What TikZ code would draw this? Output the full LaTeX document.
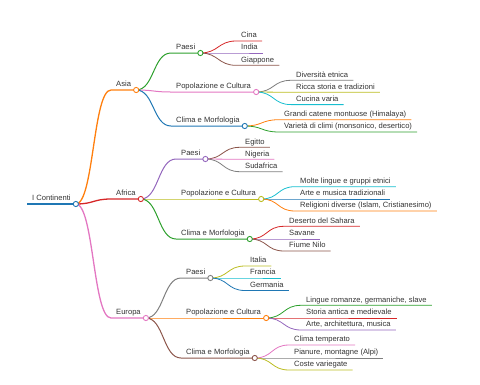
\documentclass[tikz,border=0pt]{standalone}
\usepackage{fontspec}
\setmainfont{Liberation Sans}
\usepackage{tikz}

\definecolor{mmblue}{HTML}{1F77B4}
\definecolor{mmorange}{HTML}{FF7F0E}
\definecolor{mmgreen}{HTML}{2CA02C}
\definecolor{mmred}{HTML}{D62728}
\definecolor{mmpurple}{HTML}{9467BD}
\definecolor{mmbrown}{HTML}{8C564B}
\definecolor{mmpink}{HTML}{E377C2}
\definecolor{mmgray}{HTML}{7F7F7F}
\definecolor{mmolive}{HTML}{BCBD22}
\definecolor{mmcyan}{HTML}{17BECF}

\begin{document}
\begin{tikzpicture}[x=1pt, y=-1pt,
  item/.style={anchor=south west, inner xsep=5pt, inner ysep=3pt, text depth=0pt,
    font=\fontsize{7.6}{9}\selectfont, text=black!80},
  trunk/.style={line width=1.8pt},
  lvl1/.style={line width=1.3pt},
  lvl2/.style={line width=1pt},
  lvl3/.style={line width=0.8pt},
  dot/.style={draw=#1, fill=white, line width=0.9pt}]

\useasboundingbox (0,0) rectangle (480,384);

% Root
\node[item] (root) at (27,204) {I Continenti};

% Continents
\node[item] (asia) at (111,90) {Asia};
\node[item] (africa) at (111,199) {Africa};
\node[item] (europa) at (111,318) {Europa};

% Asia
\node[item] (apaesi) at (171,53) {Paesi};
\node[item] (apop) at (171,92) {Popolazione e Cultura};
\node[item] (aclima) at (171,126) {Clima e Morfologia};
\node[item] (cina) at (236,41) {Cina};
\node[item] (india) at (236,53) {India};
\node[item] (giappone) at (236,65.3) {Giappone};
\node[item] (diversita) at (291,80.3) {Diversità etnica};
\node[item] (ricca) at (291,92.3) {Ricca storia e tradizioni};
\node[item] (cucina) at (291,104.6) {Cucina varia};
\node[item] (grandi) at (279,119.7) {Grandi catene montuose (Himalaya)};
\node[item] (varieta) at (279,132) {Varietà di climi (monsonico, desertico)};

% Africa
\node[item] (fpaesi) at (176,159) {Paesi};
\node[item] (fpop) at (176,199) {Popolazione e Cultura};
\node[item] (fclima) at (176,239) {Clima e Morfologia};
\node[item] (egitto) at (240,147.3) {Egitto};
\node[item] (nigeria) at (240,159.3) {Nigeria};
\node[item] (sudafrica) at (240,171.7) {Sudafrica};
\node[item] (molte) at (295,186.7) {Molte lingue e gruppi etnici};
\node[item] (farte) at (295,199) {Arte e musica tradizionali};
\node[item] (religioni) at (295,211) {Religioni diverse (Islam, Cristianesimo)};
\node[item] (deserto) at (284,226.3) {Deserto del Sahara};
\node[item] (savane) at (284,239) {Savane};
\node[item] (fiume) at (284,251) {Fiume Nilo};

% Europa
\node[item] (epaesi) at (181,278) {Paesi};
\node[item] (epop) at (181,318) {Popolazione e Cultura};
\node[item] (eclima) at (181,358) {Clima e Morfologia};
\node[item] (italia) at (245,266) {Italia};
\node[item] (francia) at (245,278) {Francia};
\node[item] (germania) at (245,290.5) {Germania};
\node[item] (lingue) at (301,305.3) {Lingue romanze, germaniche, slave};
\node[item] (storia) at (301,318) {Storia antica e medievale};
\node[item] (earte) at (301,330) {Arte, architettura, musica};
\node[item] (temperato) at (289,345) {Clima temperato};
\node[item] (pianure) at (289,358) {Pianure, montagne (Alpi)};
\node[item] (coste) at (289,370) {Coste variegate};

% Root line
\draw[trunk, mmblue] (root.south west) -- (root.south east);

% Branches to continents
\draw[lvl1, mmorange] (root.south east) .. controls +(18,0) and +(-18,0) .. (asia.south west) -- (asia.south east);
\draw[lvl1, mmred] (root.south east) .. controls +(18,0) and +(-18,0) .. (africa.south west) -- (africa.south east);
\draw[lvl1, mmpink] (root.south east) .. controls +(18,0) and +(-18,0) .. (europa.south west) -- (europa.south east);

% Asia branches
\draw[lvl2, mmgreen] (asia.south east) .. controls +(18,0) and +(-18,0) .. (apaesi.south west) -- (apaesi.south east);
\draw[lvl2, mmpink] (asia.south east) .. controls +(18,0) and +(-18,0) .. (apop.south west) -- (apop.south east);
\draw[lvl2, mmblue] (asia.south east) .. controls +(18,0) and +(-18,0) .. (aclima.south west) -- (aclima.south east);
\draw[lvl3, mmred] (apaesi.south east) .. controls +(18,0) and +(-18,0) .. (cina.south west) -- (cina.south east);
\draw[lvl3, mmpurple] (apaesi.south east) .. controls +(18,0) and +(-18,0) .. (india.south west) -- (india.south east);
\draw[lvl3, mmbrown] (apaesi.south east) .. controls +(18,0) and +(-18,0) .. (giappone.south west) -- (giappone.south east);
\draw[lvl3, mmgray] (apop.south east) .. controls +(18,0) and +(-18,0) .. (diversita.south west) -- (diversita.south east);
\draw[lvl3, mmolive] (apop.south east) .. controls +(18,0) and +(-18,0) .. (ricca.south west) -- (ricca.south east);
\draw[lvl3, mmcyan] (apop.south east) .. controls +(18,0) and +(-18,0) .. (cucina.south west) -- (cucina.south east);
\draw[lvl3, mmorange] (aclima.south east) .. controls +(18,0) and +(-18,0) .. (grandi.south west) -- (grandi.south east);
\draw[lvl3, mmgreen] (aclima.south east) .. controls +(18,0) and +(-18,0) .. (varieta.south west) -- (varieta.south east);

% Africa branches
\draw[lvl2, mmpurple] (africa.south east) .. controls +(18,0) and +(-18,0) .. (fpaesi.south west) -- (fpaesi.south east);
\draw[lvl2, mmolive] (africa.south east) .. controls +(18,0) and +(-18,0) .. (fpop.south west) -- (fpop.south east);
\draw[lvl2, mmgreen] (africa.south east) .. controls +(18,0) and +(-18,0) .. (fclima.south west) -- (fclima.south east);
\draw[lvl3, mmbrown] (fpaesi.south east) .. controls +(18,0) and +(-18,0) .. (egitto.south west) -- (egitto.south east);
\draw[lvl3, mmpink] (fpaesi.south east) .. controls +(18,0) and +(-18,0) .. (nigeria.south west) -- (nigeria.south east);
\draw[lvl3, mmgray] (fpaesi.south east) .. controls +(18,0) and +(-18,0) .. (sudafrica.south west) -- (sudafrica.south east);
\draw[lvl3, mmcyan] (fpop.south east) .. controls +(18,0) and +(-18,0) .. (molte.south west) -- (molte.south east);
\draw[lvl3, mmblue] (fpop.south east) .. controls +(18,0) and +(-18,0) .. (farte.south west) -- (farte.south east);
\draw[lvl3, mmorange] (fpop.south east) .. controls +(18,0) and +(-18,0) .. (religioni.south west) -- (religioni.south east);
\draw[lvl3, mmred] (fclima.south east) .. controls +(18,0) and +(-18,0) .. (deserto.south west) -- (deserto.south east);
\draw[lvl3, mmpurple] (fclima.south east) .. controls +(18,0) and +(-18,0) .. (savane.south west) -- (savane.south east);
\draw[lvl3, mmbrown] (fclima.south east) .. controls +(18,0) and +(-18,0) .. (fiume.south west) -- (fiume.south east);

% Europa branches
\draw[lvl2, mmgray] (europa.south east) .. controls +(18,0) and +(-18,0) .. (epaesi.south west) -- (epaesi.south east);
\draw[lvl2, mmorange] (europa.south east) .. controls +(18,0) and +(-18,0) .. (epop.south west) -- (epop.south east);
\draw[lvl2, mmbrown] (europa.south east) .. controls +(18,0) and +(-18,0) .. (eclima.south west) -- (eclima.south east);
\draw[lvl3, mmolive] (epaesi.south east) .. controls +(18,0) and +(-18,0) .. (italia.south west) -- (italia.south east);
\draw[lvl3, mmcyan] (epaesi.south east) .. controls +(18,0) and +(-18,0) .. (francia.south west) -- (francia.south east);
\draw[lvl3, mmblue] (epaesi.south east) .. controls +(18,0) and +(-18,0) .. (germania.south west) -- (germania.south east);
\draw[lvl3, mmgreen] (epop.south east) .. controls +(18,0) and +(-18,0) .. (lingue.south west) -- (lingue.south east);
\draw[lvl3, mmred] (epop.south east) .. controls +(18,0) and +(-18,0) .. (storia.south west) -- (storia.south east);
\draw[lvl3, mmpurple] (epop.south east) .. controls +(18,0) and +(-18,0) .. (earte.south west) -- (earte.south east);
\draw[lvl3, mmpink] (eclima.south east) .. controls +(18,0) and +(-18,0) .. (temperato.south west) -- (temperato.south east);
\draw[lvl3, mmgray] (eclima.south east) .. controls +(18,0) and +(-18,0) .. (pianure.south west) -- (pianure.south east);
\draw[lvl3, mmolive] (eclima.south east) .. controls +(18,0) and +(-18,0) .. (coste.south west) -- (coste.south east);

% Fold circles
\draw[dot=mmblue] (root.south east) circle (2.6);
\draw[dot=mmorange] (asia.south east) circle (2.6);
\draw[dot=mmred] (africa.south east) circle (2.6);
\draw[dot=mmpink] (europa.south east) circle (2.6);
\draw[dot=mmgreen] (apaesi.south east) circle (2.6);
\draw[dot=mmpink] (apop.south east) circle (2.6);
\draw[dot=mmblue] (aclima.south east) circle (2.6);
\draw[dot=mmpurple] (fpaesi.south east) circle (2.6);
\draw[dot=mmolive] (fpop.south east) circle (2.6);
\draw[dot=mmgreen] (fclima.south east) circle (2.6);
\draw[dot=mmgray] (epaesi.south east) circle (2.6);
\draw[dot=mmorange] (epop.south east) circle (2.6);
\draw[dot=mmbrown] (eclima.south east) circle (2.6);

\end{tikzpicture}
\end{document}
